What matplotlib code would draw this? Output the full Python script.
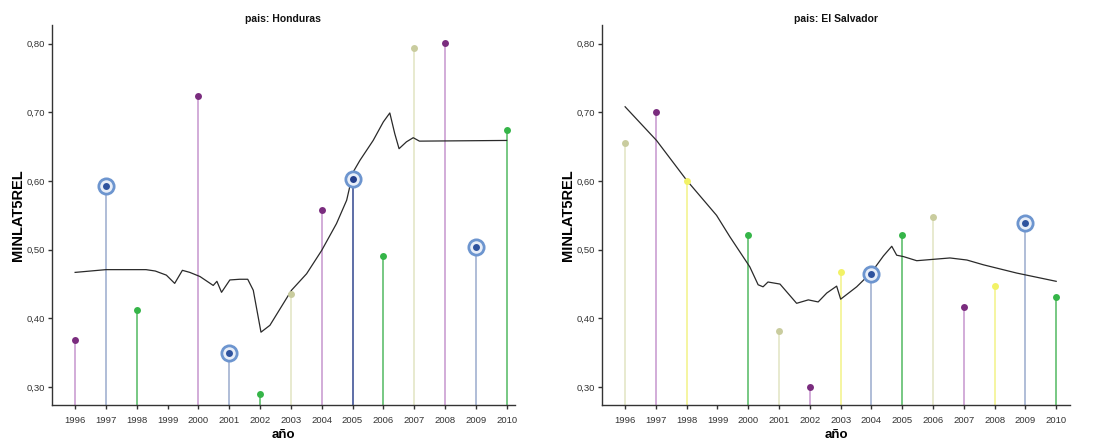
import matplotlib as mpl
import matplotlib.pyplot as plt
import numpy as np

mpl.rcParams.update({
    "font.family": ["Liberation Sans", "DejaVu Sans"],
    "axes.linewidth": 1.0,
    "xtick.direction": "out",
    "ytick.direction": "out",
})

# --- Data ---
years = [1996, 1997, 1998, 2000, 2001, 2002, 2003, 2004, 2005, 2006, 2007, 2008, 2009, 2010]

hn_values = [0.369, 0.593, 0.412, 0.723, 0.350, 0.290, 0.436, 0.558, 0.603, 0.491,
             0.794, 0.801, 0.504, 0.674]
hn_groups = ["purple", "blue", "green", "purple", "blue", "green", "khaki", "purple",
             "navy", "green", "khaki", "purple", "blue", "green"]

sv_values = [0.655, 0.700, 0.600, 0.522, 0.381, 0.300, 0.467, 0.465, 0.522, 0.547,
             0.416, 0.447, 0.539, 0.431]
sv_groups = ["khaki", "purple", "yellow", "green", "khaki", "purple", "yellow", "blue",
             "green", "khaki", "purple", "yellow", "blue", "green"]

# smoothed fit line
hn_fit_x = [1996.0, 1997.0, 1998.3, 1998.6, 1998.96, 1999.23, 1999.48, 1999.72, 2000.05,
            2000.48, 2000.6, 2000.75, 2001.02, 2001.34, 2001.6, 2001.78, 2002.03, 2002.32,
            2003.02, 2003.51, 2004.0, 2004.48, 2004.81, 2005.02, 2005.24, 2005.67, 2006.0,
            2006.21, 2006.37, 2006.51, 2006.75, 2006.97, 2007.17, 2010.0]
hn_fit_y = [0.467, 0.471, 0.471, 0.469, 0.463, 0.451, 0.470, 0.467, 0.461,
            0.448, 0.454, 0.438, 0.456, 0.457, 0.457, 0.441, 0.380, 0.390,
            0.441, 0.465, 0.499, 0.538, 0.572, 0.613, 0.630, 0.659, 0.686,
            0.699, 0.669, 0.647, 0.657, 0.663, 0.658, 0.659]

sv_fit_x = [1996.0, 1997.02, 1998.0, 1998.97, 1999.4, 2000.05, 2000.32, 2000.48, 2000.64,
            2001.03, 2001.3, 2001.57, 2001.95, 2002.27, 2002.55, 2002.87, 2003.0, 2003.52,
            2004.0, 2004.39, 2004.66, 2004.82, 2005.04, 2005.47, 2006.01, 2006.55, 2007.1,
            2007.64, 2008.72, 2010.0]
sv_fit_y = [0.708, 0.659, 0.601, 0.550, 0.519, 0.475, 0.449, 0.446, 0.453,
            0.450, 0.436, 0.422, 0.427, 0.424, 0.437, 0.447, 0.428, 0.446,
            0.467, 0.491, 0.505, 0.492, 0.490, 0.484, 0.486, 0.488, 0.485,
            0.478, 0.466, 0.454]

tick_years = list(range(1996, 2011))
y_ticks = [0.30, 0.40, 0.50, 0.60, 0.70, 0.80]

# group -> (dot colour, stem colour)
styles = {
    "purple": ("#7a2c7e", "#cfa6d6"),
    "blue":   ("#2f539e", "#a9b8d4"),
    "navy":   ("#243f8c", "#5062a0"),
    "green":  ("#35b548", "#6cc47a"),
    "khaki":  ("#c9cc9e", "#e6e8cc"),
    "yellow": ("#f2f266", "#f5f59a"),
}
ring_color = "#6d95cf"


def draw_panel(ax, title, values, groups, fit_x, fit_y, xlim):
    ybot, ytop = 0.274, 0.827
    for x, v, g in zip(years, values, groups):
        dot, stem = styles[g]
        ax.vlines(x, ybot, v, color=stem, lw=1.3, zorder=1)
    ax.plot(fit_x, fit_y, color="#2a2a2a", lw=0.9, zorder=2)
    for x, v, g in zip(years, values, groups):
        dot, stem = styles[g]
        if g in ("blue", "navy"):
            ax.plot(x, v, "o", ms=11, mfc="#e8eef8", mec=ring_color, mew=2.0, zorder=3)
        ax.plot(x, v, "o", ms=5, color=dot, mec="none", zorder=4)

    ax.set_xlim(*xlim)
    ax.set_ylim(ybot, ytop)
    ax.set_xticks(tick_years)
    ax.set_xticklabels([str(t) for t in tick_years])
    ax.set_yticks(y_ticks)
    ax.set_yticklabels([f"{t:.2f}".replace(".", ",") for t in y_ticks])
    ax.tick_params(axis="both", labelsize=6.8, colors="#333333", length=3, width=1.0, pad=2)
    ax.tick_params(axis="x", pad=5)
    ax.spines[["top", "right"]].set_visible(False)
    ax.spines[["left", "bottom"]].set_color("#333333")
    ax.set_title(title, fontsize=7.5, fontweight="bold", pad=2, color="#111111")
    ax.set_xlabel("año", fontsize=9.5, fontweight="bold", labelpad=3)
    ax.set_ylabel("MINLAT5REL", fontsize=10.5, fontweight="bold", labelpad=1)


fig = plt.figure(figsize=(11.02, 4.44), dpi=100)
ax1 = fig.add_axes([0.0472, 0.0878, 0.4198, 0.8559])
ax2 = fig.add_axes([0.5463, 0.0878, 0.4247, 0.8559])

draw_panel(ax1, "pais: Honduras", hn_values, hn_groups, hn_fit_x, hn_fit_y, (1995.25, 2010.26))
draw_panel(ax2, "pais: El Salvador", sv_values, sv_groups, sv_fit_x, sv_fit_y, (1995.25, 2010.45))

fig.savefig("out.png", dpi=100)
plt.close(fig)
